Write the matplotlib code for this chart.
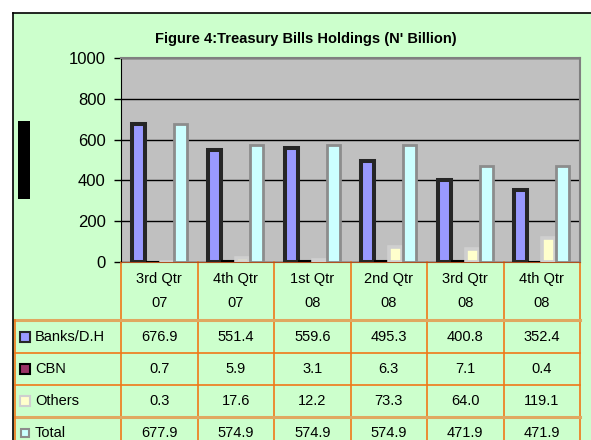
import matplotlib.pyplot as plt
import numpy as np
from matplotlib.patches import Rectangle
from matplotlib.lines import Line2D
from matplotlib.transforms import blended_transform_factory

plt.rcParams['font.family'] = ['Liberation Sans', 'DejaVu Sans']

quarters = ["3rd Qtr\n07", "4th Qtr\n07", "1st Qtr\n08", "2nd Qtr\n08", "3rd Qtr\n08", "4th Qtr\n08"]
banks = [676.9, 551.4, 559.6, 495.3, 400.8, 352.4]
cbn = [0.7, 5.9, 3.1, 6.3, 7.1, 0.4]
others = [0.3, 17.6, 12.2, 73.3, 64.0, 119.1]
total = [677.9, 574.9, 574.9, 574.9, 471.9, 471.9]

series_names = ["Banks/D.H", "CBN", "Others", "Total"]
series_vals = [banks, cbn, others, total]
face = ["#9999FF", "#993366", "#FFFFCC", "#CCFFFF"]
edge = ["#262626", "#000000", "#CFCFCF", "#8C8C8C"]
lws = [2.9, 1.5, 2.6, 2.0]

W, H = 591, 440
fig = plt.figure(figsize=(W / 100, H / 100), dpi=100)
fig.patch.set_facecolor("white")

def fx(px):
    return px / W

def fy(py):
    return 1 - py / H

# green chart area with black frame (top / left)
fig.patches.append(Rectangle((fx(13), 0), 1 - fx(13), fy(13), transform=fig.transFigure,
                             facecolor="#CCFFCC", edgecolor="none", zorder=-10))
fig.lines.append(Line2D([fx(13), 1], [fy(13), fy(13)], transform=fig.transFigure, color="black", lw=1.2))
fig.lines.append(Line2D([fx(13), fx(13)], [0, fy(13)], transform=fig.transFigure, color="black", lw=1.2))
# black block where the axis title sits
fig.patches.append(Rectangle((fx(18), fy(199)), fx(12), (199 - 121) / H, transform=fig.transFigure,
                             facecolor="black", edgecolor="none"))

fig.text(fx(306), fy(39), "Figure 4:Treasury Bills Holdings (N' Billion)", ha="center", va="center",
         fontsize=10.5, fontweight="bold")

ax = fig.add_axes([fx(121), fy(262), fx(580 - 121), (262 - 58) / H], zorder=2)
ax.set_facecolor("#C0C0C0")
x = np.arange(len(quarters))
step = 0.185
for i, vals in enumerate(series_vals):
    ax.bar(x + (i - 1.5) * step, vals, width=0.17, color=face[i], edgecolor=edge[i],
           linewidth=lws[i], zorder=3)

ax.set_xlim(-0.5, 5.5)
ax.set_ylim(0, 1000)
ax.set_yticks(range(0, 1001, 200))
ax.tick_params(axis="y", labelsize=12, length=5, width=1, pad=6)
ax.set_xticks([])
ax.grid(axis="y", color="black", lw=1, zorder=1)
for s in ["top", "right"]:
    ax.spines[s].set_color("#808080")
    ax.spines[s].set_linewidth(1.5)
ax.spines["left"].set_color("black")
ax.spines["bottom"].set_color("#B05020")

# data table below the plot
tr = blended_transform_factory(ax.transData, fig.transFigure)
col_w = (580 - 121) / len(quarters)
left = -0.5 - (121 - 15) / col_w
rows = [262, 320, 353, 385, 417, 449]
orange = "#F07818"
tan = "#E0A860"

for k in range(len(quarters) + 1):
    ax.add_line(Line2D([k - 0.5, k - 0.5], [fy(rows[0]), 0], transform=tr, color=orange, lw=1.2,
                       clip_on=False))
fig.lines.append(Line2D([fx(15), fx(15)], [fy(rows[1]), 0], transform=fig.transFigure,
                        color=orange, lw=1.2))
for j, py in enumerate(rows[1:5]):
    c, lw = (tan, 2.2) if j in (0, 3) else (orange, 1.2)
    ax.add_line(Line2D([left, 5.5], [fy(py), fy(py)], transform=tr, color=c, lw=lw, clip_on=False))

for k, q in enumerate(quarters):
    ax.text(k, fy(291), q, transform=tr, ha="center", va="center", fontsize=10.5, linespacing=1.9)
    for j, vals in enumerate(series_vals):
        yc = (rows[j + 1] + rows[j + 2]) / 2
        ax.text(k, fy(yc), f"{vals[k]:.1f}", transform=tr, ha="center", va="center", fontsize=10.5)

for j, name in enumerate(series_names):
    yc = (rows[j + 1] + rows[j + 2]) / 2
    sz = 10 if j != 3 else 8
    fig.patches.append(Rectangle((fx(25 - sz / 2), fy(yc + sz / 2)), fx(sz), sz / H,
                                 transform=fig.transFigure, facecolor=face[j], edgecolor=edge[j],
                                 lw=1.5))
    fig.text(fx(35), fy(yc), name, ha="left", va="center", fontsize=10.5)

fig.savefig("out.png", dpi=100)
